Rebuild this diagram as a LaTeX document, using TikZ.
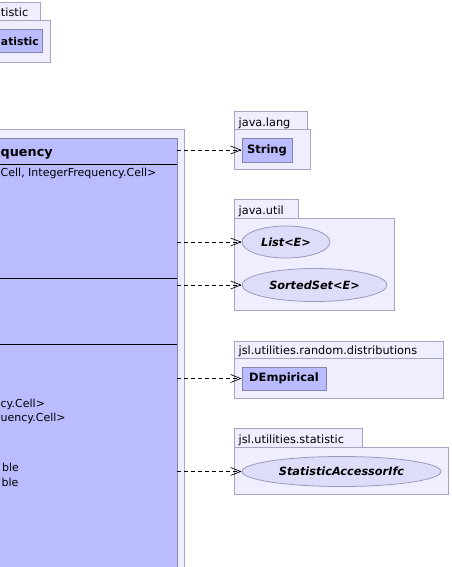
\documentclass[tikz,border=0pt]{standalone}
\usepackage{fontspec}
\setmainfont{DejaVu Sans}
\usetikzlibrary{arrows.meta,shapes.geometric}
\definecolor{pkgfill}{HTML}{EEEEFF}
\definecolor{pkgdraw}{HTML}{A4A4C4}
\definecolor{clsfill}{HTML}{BBBBFF}
\definecolor{clsdraw}{HTML}{8585AE}
\definecolor{ifcfill}{HTML}{DDDDFA}
\definecolor{ifcdraw}{HTML}{9A9ABE}
\tikzset{
  pkgbox/.style={draw=pkgdraw, fill=pkgfill, line width=0.9pt, inner sep=0pt, anchor=north west},
  clsbox/.style={draw=clsdraw, fill=clsfill, line width=0.9pt, inner sep=0pt, font=\fontsize{11.5}{13}\selectfont\bfseries},
  ifcbox/.style={ellipse, draw=ifcdraw, fill=ifcfill, line width=0.8pt, inner sep=0pt, font=\fontsize{11.3}{13}\selectfont\bfseries\itshape},
  lbl/.style={inner sep=0pt, font=\fontsize{11.3}{13}\selectfont},
  mlbl/.style={inner sep=0pt, anchor=base west, font=\fontsize{11}{13}\selectfont},
  sepline/.style={draw=black, line width=0.9pt},
  dep/.style={draw=black, line width=0.7pt, dash pattern=on 4pt off 3pt, -{Straight Barb[length=10pt,width=8pt,line width=0.7pt]}}
}
\begin{document}
\begin{tikzpicture}[x=1pt,y=-1pt]
\useasboundingbox (0,0) rectangle (451,567);
\clip (0,0) rectangle (451,567);
\fill[white] (0,0) rectangle (451,567);

% top-left package (partial)
\node[pkgbox, minimum width=45pt, minimum height=18pt] (p0tab) at (-5,2) {};
\node[pkgbox, minimum width=55pt, minimum height=42pt] (p0body) at (-5,20) {};
\node[clsbox, anchor=north west, minimum width=47pt, minimum height=23pt] (p0cls) at (-5,29) {};
\node[lbl, anchor=base west] (p0tabl) at (0.8,17) {tistic};
\node[lbl, anchor=base west, font=\fontsize{10.8}{13}\selectfont\bfseries] (p0clsl) at (0.8,46) {atistic};

% main class (partial)
\node[pkgbox, minimum width=189pt, minimum height=480pt] (mainpkg) at (-5,129) {};
\node[clsbox, anchor=north west, minimum width=182pt, minimum height=470pt] (main) at (-5,138) {};
\draw[sepline] (0,164) -- (177,164);
\draw[sepline] (0,278) -- (177,278);
\draw[sepline] (0,344) -- (177,344);
\node[lbl, anchor=base west, font=\fontsize{12.8}{15}\selectfont\bfseries] (mtitle) at (0.5,156) {quency};
\node[mlbl] (m1) at (0.5,176) {Cell, IntegerFrequency.Cell>};
\node[mlbl] (m2) at (0.5,407) {cy.Cell>};
\node[mlbl] (m3) at (0.5,421) {uency.Cell>};
\node[mlbl] (m4) at (2,471) {ble};
\node[mlbl] (m5) at (1.5,486) {ble};

% java.lang
\node[pkgbox, minimum width=73pt, minimum height=18pt] (langtab) at (234,111) {};
\node[pkgbox, minimum width=76pt, minimum height=40pt] (langbody) at (234,129) {};
\node[lbl, anchor=base west] (langl) at (238.5,126) {java.lang};
\node[clsbox, minimum width=50pt, minimum height=24pt] (str) at (267,150) {String};

% java.util
\node[pkgbox, minimum width=64pt, minimum height=19pt] (utiltab) at (234,199) {};
\node[pkgbox, minimum width=160pt, minimum height=92pt] (utilbody) at (234,218) {};
\node[lbl, anchor=base west] (utill) at (238.5,214.5) {java.util};
\node[ifcbox, minimum width=88pt, minimum height=32pt] (list) at (286,242) {List<E>};
\node[ifcbox, minimum width=145pt, minimum height=33pt] (sset) at (314.5,285) {SortedSet<E>};

% jsl.utilities.random.distributions
\node[pkgbox, minimum width=209pt, minimum height=17pt] (disttab) at (234,341) {};
\node[pkgbox, minimum width=209pt, minimum height=40pt] (distbody) at (234,358) {};
\node[lbl, anchor=base west] (distl) at (238.5,354.3) {jsl.utilities.random.distributions};
\node[clsbox, minimum width=84pt, minimum height=23pt] (demp) at (284,378.5) {DEmpirical};

% jsl.utilities.statistic
\node[pkgbox, minimum width=128pt, minimum height=19pt] (stattab) at (234,428) {};
\node[pkgbox, minimum width=214pt, minimum height=47pt] (statbody) at (234,447) {};
\node[lbl, anchor=base west] (statl) at (238.5,443.3) {jsl.utilities.statistic};
\node[ifcbox, minimum width=199pt, minimum height=30pt] (sai) at (341.5,471.5) {StatisticAccessorIfc};

% dependencies
\coordinate (d1) at (177,150);
\coordinate (d2) at (177,242);
\coordinate (d3) at (177,285);
\coordinate (d4) at (177,378.5);
\coordinate (d5) at (177,471.5);
\draw[dep] (d1) -- (str.west);
\draw[dep] (d2) -- (list.west);
\draw[dep] (d3) -- (sset.west);
\draw[dep] (d4) -- (demp.west);
\draw[dep] (d5) -- (sai.west);
\end{tikzpicture}
\end{document}
